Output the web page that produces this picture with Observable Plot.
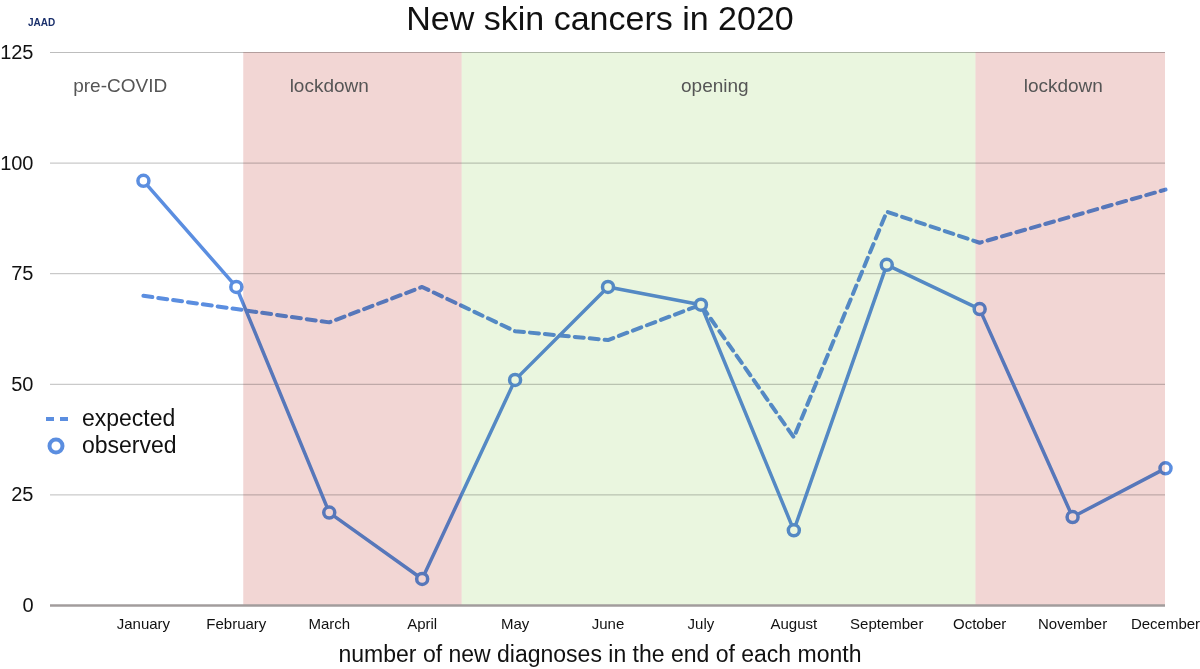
<!DOCTYPE html>
<html>
<head>
<meta charset="utf-8">
<script src="https://cdn.jsdelivr.net/npm/d3@7"></script>
<script src="https://cdn.jsdelivr.net/npm/@observablehq/plot@0.6"></script>
<style>
  html, body { margin: 0; padding: 0; background: #fff; }
  body { width: 1200px; height: 669px; overflow: hidden; font-family: "Liberation Sans", Arial, Helvetica, sans-serif; }
  #wrap { position: relative; width: 1200px; height: 669px; }
  #title { height: 44px; line-height: 36px; text-align: center; font-size: 34px; color: #111; }
  #xlabel { height: 29px; line-height: 29px; text-align: center; font-size: 23px; color: #111; }
  #logo { position: absolute; left: 28px; top: 17px; font-size: 10px; color: #1a2f6b; font-weight: bold; }
  #legend { position: absolute; left: 44px; top: 405px; font-size: 23px; color: #111; }
  #legend .row { display: flex; align-items: center; height: 27px; }
  #legend svg { margin-right: 10px; }
</style>
</head>
<body>
<div id="wrap">
  <div id="logo">JAAD</div>
  <div id="title">New skin cancers in 2020</div>
  <div id="chart"></div>
  <div id="xlabel">number of new diagnoses in the end of each month</div>
  <div id="legend">
    <div class="row"><svg width="28" height="10"><line x1="2" y1="5" x2="26" y2="5" stroke="#5b8ee0" stroke-width="4" stroke-dasharray="8,6"/></svg><span>expected</span></div>
    <div class="row"><svg width="28" height="20"><circle cx="12" cy="10" r="6.5" fill="#fff" stroke="#5b8ee0" stroke-width="4"/></svg><span>observed</span></div>
  </div>
</div>
<script>
const months = ["January","February","March","April","May","June","July","August","September","October","November","December"];
const observed = [96, 72, 21, 6, 51, 72, 68, 17, 77, 67, 20, 31];
const expected = [70, 67, 64, 72, 62, 60, 68, 38, 89, 82, 88, 94];
const yTicks = [0, 25, 50, 75, 100, 125];
const periodNames = ["lockdown", "opening", "lockdown"];
const periodStart = [2.08, 4.43, 9.96];
const periodEnd = [4.43, 9.96, 12];
const periodColors = ["#f2d6d4", "#eaf6df", "#f2d6d4"];
const labelNames = ["pre-COVID", "lockdown", "opening", "lockdown"];
const labelPos = [0.75, 3.0, 7.15, 10.9];
const labelValue = 117.5;

const obs = months.map((m, i) => ({idx: i + 1, v: observed[i]}));
const exp = months.map((m, i) => ({idx: i + 1, v: expected[i]}));
const periods = periodNames.map((n, i) => ({x1: periodStart[i], x2: periodEnd[i], fill: periodColors[i]}));
const labels = labelNames.map((n, i) => ({x: labelPos[i], y: labelValue, t: n}));

const blue = "#5b8ee0";

const plot = Plot.plot({
  width: 1200,
  height: 596,
  marginLeft: 50,
  marginRight: 35,
  marginTop: 8,
  marginBottom: 35,
  style: {fontFamily: '"Liberation Sans", Arial, Helvetica, sans-serif', color: "#111", background: "transparent", overflow: "visible"},
  x: {type: "linear", domain: [0, 12]},
  y: {domain: [0, 125]},
  marks: [
    Plot.gridY(yTicks.filter(d => d > 0), {stroke: "#bdbdbd", strokeOpacity: 1, strokeWidth: 1}),
    Plot.line(exp, {x: "idx", y: "v", stroke: blue, strokeWidth: 4, strokeDasharray: "9,6"}),
    Plot.line(obs, {x: "idx", y: "v", stroke: blue, strokeWidth: 3.5}),
    Plot.dot(obs, {x: "idx", y: "v", r: 5.5, fill: "white", stroke: blue, strokeWidth: 3.5}),
    Plot.rect(periods, {x1: "x1", x2: "x2", y1: 0, y2: 125, fill: "fill", mixBlendMode: "multiply"}),
    Plot.ruleY([0], {stroke: "#a29c9c", strokeWidth: 2.5}),
    Plot.text(labels, {x: "x", y: "y", text: "t", fill: "#555", fontSize: 19}),
    Plot.axisY(yTicks, {tickSize: 0, tickPadding: 17, fontSize: 20, label: null, fill: "#111"}),
    Plot.axisX(months.map((m, i) => i + 1), {tickSize: 0, tickPadding: 13, fontSize: 15, label: null, fill: "#111", tickFormat: d => months[d - 1]})
  ]
});
plot.querySelectorAll('g[aria-label="rect"]').forEach(g => g.style.mixBlendMode = "multiply");
plot.querySelectorAll('g[aria-label="rect"] rect').forEach(r => r.style.mixBlendMode = "multiply");
document.getElementById("chart").appendChild(plot);
</script>
</body>
</html>
